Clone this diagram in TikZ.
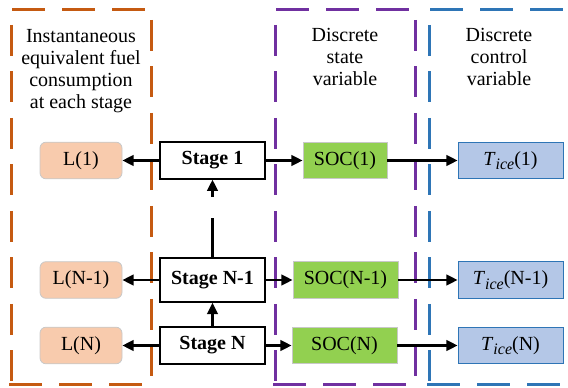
\documentclass[tikz,border=0pt]{standalone}
\usepackage{fontspec}
\setmainfont{Liberation Serif}
\usetikzlibrary{arrows.meta}

\definecolor{fuelorange}{HTML}{C55A11}
\definecolor{statepurple}{HTML}{7030A0}
\definecolor{ctrlblue}{HTML}{2E75B6}
\definecolor{peach}{HTML}{F8CBAD}
\definecolor{socgreen}{HTML}{92D050}
\definecolor{ticeblue}{HTML}{B4C7E7}
\definecolor{softgray}{HTML}{C8C8C8}

\tikzset{
  txt/.style={font=\fontsize{15}{16.5}\selectfont},
  hdash/.style={line width=2.25pt, dash pattern=on 24.75pt off 12.75pt},
  vdash/.style={line width=2.25pt, dash pattern=on 23.25pt off 11.6pt},
  header/.style={txt, align=center, anchor=north, inner sep=0pt},
  fuelbox/.style={txt, draw=softgray, line width=0.6pt, fill=peach, rounded corners=4.5pt,
                  minimum width=61.5pt, minimum height=27.5pt, inner sep=0pt},
  stagebox/.style={font=\fontsize{15}{16.5}\selectfont\bfseries, draw=black, line width=1.2pt,
                   fill=white, minimum width=78.75pt, minimum height=27.5pt, inner sep=0pt},
  socbox/.style={txt, draw=softgray, line width=0.6pt, fill=socgreen,
                 minimum height=27.5pt, inner sep=0pt},
  ticebox/.style={txt, draw=ctrlblue, line width=0.6pt, fill=ticeblue,
                  minimum width=78.75pt, minimum height=27.5pt, inner sep=0pt},
  link/.style={line width=1.8pt, -{Triangle[length=8.5pt,width=8pt]}},
  plainlink/.style={line width=1.8pt}
}

\newcommand{\tice}[1]{\textit{T}\raisebox{-0.22em}{\fontsize{12}{12}\selectfont\textit{ice}}(#1)}

\begin{document}
\begin{tikzpicture}[x=0.75pt,y=-0.75pt]
  \useasboundingbox (0,0) rectangle (568,388);

  % group frames
  \draw[fuelorange, hdash] (12,10) -- (151,10);
  \draw[fuelorange, hdash] (9,385) -- (151,385);
  \draw[fuelorange, vdash] (11,25) -- (11,385);
  \draw[fuelorange, vdash] (151,20) -- (151,385);

  \draw[statepurple, hdash] (276,10) -- (415,10);
  \draw[statepurple, hdash] (273,385) -- (415,385);
  \draw[statepurple, vdash] (275,25) -- (275,385);
  \draw[statepurple, vdash] (415,20) -- (415,385);

  \draw[ctrlblue, hdash] (430,10) -- (568,10);
  \draw[ctrlblue, hdash] (427,385) -- (568,385);
  \draw[ctrlblue, vdash] (429,25) -- (429,385);

  % headers
  \node[header] (hfuel) at (81,29) {Instantaneous\\equivalent fuel\\consumption\\at each stage};
  \node[header] (hstate) at (345,27.5) {Discrete\\state\\variable};
  \node[header] (hctrl) at (499,27.5) {Discrete\\control\\variable};

  % stages
  \node[stagebox] (s1) at (212.5,160.5) {Stage 1};
  \node[stagebox, minimum height=33pt] (sn1) at (212.5,280) {Stage N-1};
  \node[stagebox] (sn) at (212.5,345.5) {Stage N};

  % fuel consumption
  \node[fuelbox] (l1) at (81,160.5) {L(1)};
  \node[fuelbox] (ln1) at (81,280) {L(N-1)};
  \node[fuelbox] (ln) at (81,345.5) {L(N)};

  % state of charge
  \node[socbox, minimum width=63pt] (c1) at (345,160.5) {SOC(1)};
  \node[socbox, minimum width=78.75pt] (cn1) at (345.5,280) {SOC(N-1)};
  \node[socbox, minimum width=78.75pt] (cn) at (344.5,345.5) {SOC(N)};

  % engine torque
  \node[ticebox] (t1) at (510.5,160.5) {\tice{1}};
  \node[ticebox] (tn1) at (510.5,280) {\tice{N-1}};
  \node[ticebox] (tn) at (510.5,345.5) {\tice{N}};

  % connectors
  \foreach \s/\l/\c/\t in {s1/l1/c1/t1, sn1/ln1/cn1/tn1, sn/ln/cn/tn}{
    \draw[link] (\s.west) -- (\l.east);
    \draw[link] (\s.east) -- (\c.west);
    \draw[link] (\c.east) -- (\t.west);
  }
  \coordinate (gaplow) at (212.5,218);
  \coordinate (gaphigh) at (212.5,197);
  \draw[link] (sn.north) -- (sn1.south);
  \draw[plainlink] (sn1.north) -- (gaplow);
  \draw[link] (gaphigh) -- (s1.south);
\end{tikzpicture}
\end{document}
